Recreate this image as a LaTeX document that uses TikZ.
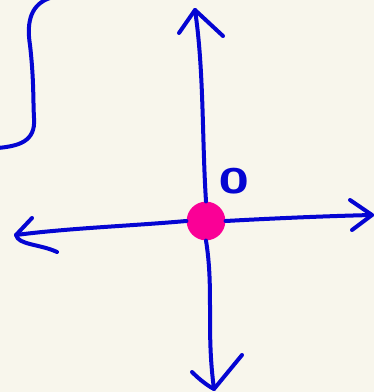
\documentclass[tikz,border=0pt]{standalone}
\usepackage{xcolor}
\definecolor{paper}{RGB}{248,246,236}
\definecolor{penblue}{RGB}{5,5,210}
\definecolor{dotpink}{RGB}{250,0,150}
\begin{document}
\begin{tikzpicture}[x=0.75pt,y=-0.75pt,
        pen/.style={penblue,line width=3pt,line cap=round,line join=round}]
    \fill[paper] (0,0) rectangle (374,392);
    \useasboundingbox (0,0) rectangle (374,392);
    % origin and its label
    \node[circle,fill=dotpink,inner sep=0pt,minimum size=29pt] (origin) at (206,221) {};
    \node[penblue,font=\sffamily\bfseries\fontsize{40}{40}\selectfont] (olabel) at (234,181) {o};
    % ends of the four axes
    \coordinate (tipU) at (195,10);
    \coordinate (tipR) at (372,215);
    \coordinate (tipL) at (16,235);
    \coordinate (tipD) at (214,389);
    \draw[pen] (origin.north) .. controls (202,140) and (204,70) .. (tipU);
    \draw[pen] (tipU) ++(-16,23) -- (tipU) -- ++(28,26);
    \draw[pen] (origin.east) .. controls (280,218) and (330,216) .. (tipR);
    \draw[pen] (tipR) ++(-22,-15) -- (tipR) -- ++(-20,15);
    \draw[pen] (origin.west) .. controls (130,226) and (70,228) .. (tipL);
    \draw[pen] (tipL) ++(16,-17) -- (tipL) .. controls (18,245) and (40,244) .. ++(41,17);
    \draw[pen] (origin.south) .. controls (214,290) and (206,330) .. (tipD);
    \draw[pen] (tipD) ++(-22,-17) .. controls (200,380) and (208,386) .. (tipD) -- ++(28,-34);
    % the bracket in the corner
    \draw[pen] (50,-2) .. controls (32,4) and (26,20) .. (30,45)
        .. controls (34,80) and (33,100) .. (34,118)
        .. controls (36,142) and (18,146) .. (-2,148);
\end{tikzpicture}
\end{document}
